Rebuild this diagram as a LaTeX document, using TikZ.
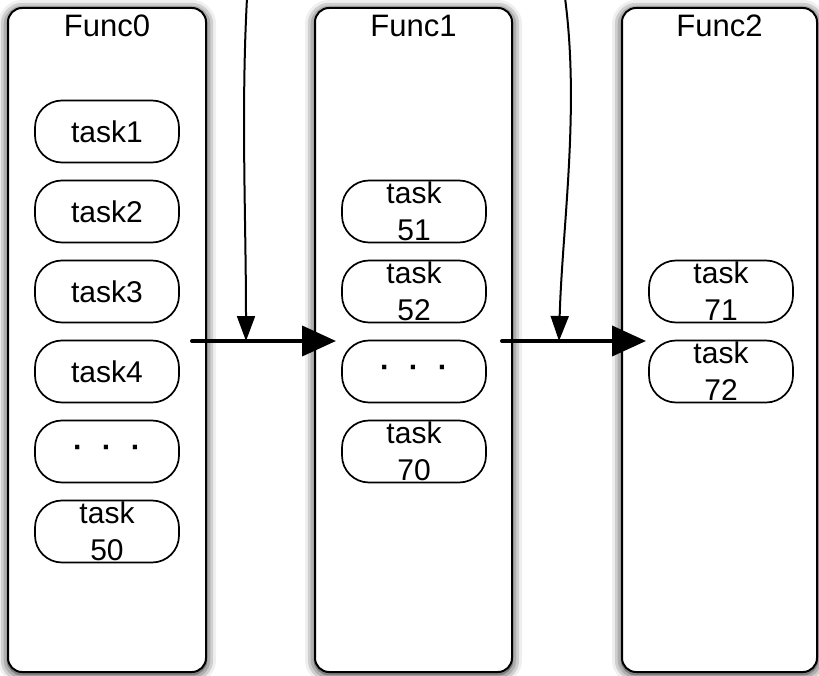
\documentclass[tikz,border=0pt]{standalone}
\usepackage{fontspec}
\setmainfont{Liberation Sans}
\usetikzlibrary{arrows.meta,shadows.blur}
\begin{document}
\begin{tikzpicture}[x=1pt,y=-1pt,
  func/.style={draw, line width=2pt, rounded corners=14pt, fill=white,
    blur shadow={shadow xshift=0pt, shadow yshift=-2pt, shadow blur radius=10pt, shadow opacity=100}},
  title/.style={font=\fontsize{31}{36}\selectfont, inner sep=0pt},
  taskbox/.style={draw, line width=1.7pt, rounded corners=27pt, fill=white,
    minimum width=144pt, minimum height=62pt, inner sep=0pt, align=center,
    font=\fontsize{30}{37}\selectfont},
  flow/.style={line width=4pt, line cap=round, -{Triangle[length=34pt,width=30pt]}},
  feed/.style={line width=2pt, -{Triangle[length=25pt,width=18pt]}}
]
\useasboundingbox (0,0) rectangle (819,676);
\node[func, minimum width=198pt, minimum height=664pt] (f0) at (107,340) {};
\node[func, minimum width=197pt, minimum height=664pt] (f1) at (413.5,340) {};
\node[func, minimum width=195pt, minimum height=664pt] (f2) at (719.5,340) {};
\node[title] (t0) at (107,26) {Func0};
\node[title] (t1) at (413.5,26) {Func1};
\node[title] (t2) at (719.5,26) {Func2};
% Func0 tasks
\node[taskbox] (a1) at (107,131.5) {task1};
\node[taskbox] (a2) at (107,211.5) {task2};
\node[taskbox] (a3) at (107,291.5) {task3};
\node[taskbox] (a4) at (107,371.5) {task4};
\node[taskbox] (a5) at (107,451.5) {\raisebox{-6pt}[0pt][0pt]{\bfseries ·\hspace{19pt}·\hspace{19pt}·}};
\node[taskbox] (a6) at (107,531.5) {task\\50};
% Func1 tasks
\node[taskbox] (b1) at (414,211.5) {task\\51};
\node[taskbox] (b2) at (414,291.5) {task\\52};
\node[taskbox] (b3) at (414,371.5) {\raisebox{-6pt}[0pt][0pt]{\bfseries ·\hspace{19pt}·\hspace{19pt}·}};
\node[taskbox] (b4) at (414,451.5) {task\\70};
% Func2 tasks
\node[taskbox] (c1) at (721,291.5) {task\\71};
\node[taskbox] (c2) at (721,371.5) {task\\72};
% connectors
\coordinate (h1s) at (192,341);
\coordinate (h1e) at (336,341);
\coordinate (h2s) at (502,341);
\coordinate (h2e) at (646,341);
\coordinate (v1s) at (247,-2);
\coordinate (v1e) at (246,341);
\coordinate (v2s) at (565,-2);
\coordinate (v2e) at (559,341);
\draw[feed] (v1s) .. controls (241,110) and (246,220) .. (v1e);
\draw[feed] (v2s) .. controls (580,110) and (562,230) .. (v2e);
\draw[flow] (h1s) -- (h1e);
\draw[flow] (h2s) -- (h2e);
\end{tikzpicture}
\end{document}
